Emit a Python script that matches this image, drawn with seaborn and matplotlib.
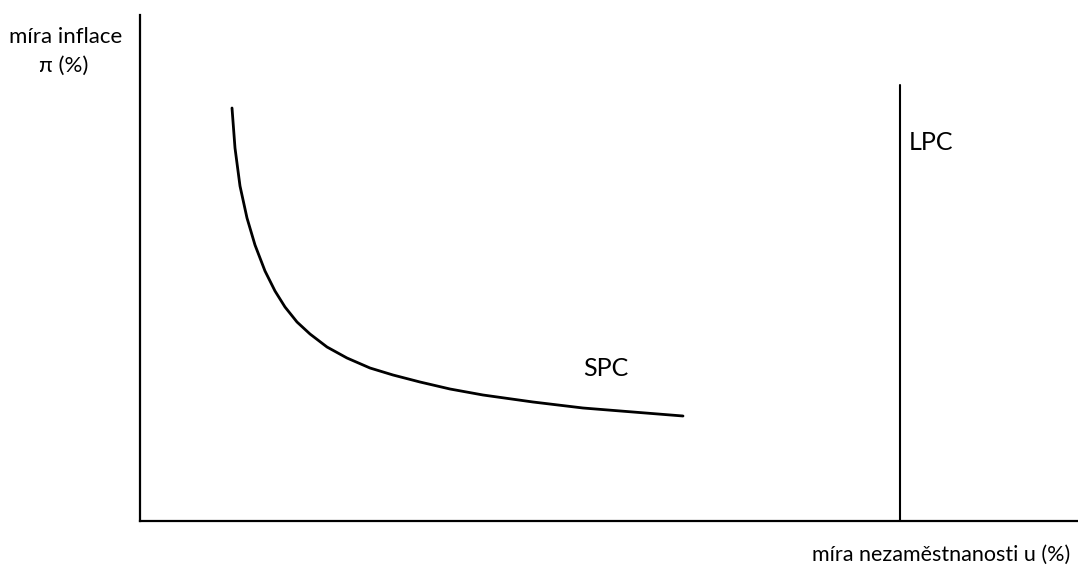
import numpy as np
import pandas as pd
import seaborn as sns
import matplotlib.pyplot as plt

# short-run Phillips curve (axis units = pixels from origin)
spc_u = [92, 95, 100, 107, 115, 125, 135, 145, 157, 170, 187, 207, 230,
         253, 280, 310, 343, 393, 443, 493, 543]
spc_pi = [413, 373, 335, 303, 276, 250, 230, 214, 199, 187, 174, 163, 153,
          146, 139, 132, 126, 119, 113, 109, 105]

# long-run Phillips curve (vertical)
lpc_u = [760, 760]
lpc_pi = [0, 436]

x_max = 938
y_max = 506

sns.set_style("white")
plt.rcParams["font.family"] = ["Lato", "DejaVu Sans"]

fig = plt.figure(figsize=(10.78, 5.66), dpi=100)
ax = fig.add_axes([140 / 1078, 45 / 566, 938 / 1078, 506 / 566])

spc = pd.DataFrame({"u": spc_u, "pi": spc_pi})
lpc = pd.DataFrame({"u": lpc_u, "pi": lpc_pi})

sns.lineplot(data=spc, x="u", y="pi", sort=False, estimator=None,
             color="black", linewidth=2, ax=ax)
sns.lineplot(data=lpc, x="u", y="pi", sort=False, estimator=None,
             color="black", linewidth=1.5, ax=ax)
ax.lines[0].set_solid_joinstyle("round")

ax.set_xlim(0, x_max)
ax.set_ylim(0, y_max)
ax.set_xticks([])
ax.set_yticks([])
ax.set_xlabel("")
ax.set_ylabel("")
sns.despine(ax=ax)
for side in ["left", "bottom"]:
    ax.spines[side].set_color("black")
    ax.spines[side].set_linewidth(1.6)

def px_text(x, y, s, size):
    fig.text(x / 1078, 1 - y / 566, s, ha="center", va="center",
             fontsize=size, color="black")

px_text(66, 37, "míra inflace", 16)
px_text(64, 66, "π (%)", 16)
px_text(606, 369, "SPC", 18)
px_text(931, 142, "LPC", 18)
px_text(941, 555, "míra nezaměstnanosti u (%)", 15.5)

fig.savefig("out.png", dpi=100)
